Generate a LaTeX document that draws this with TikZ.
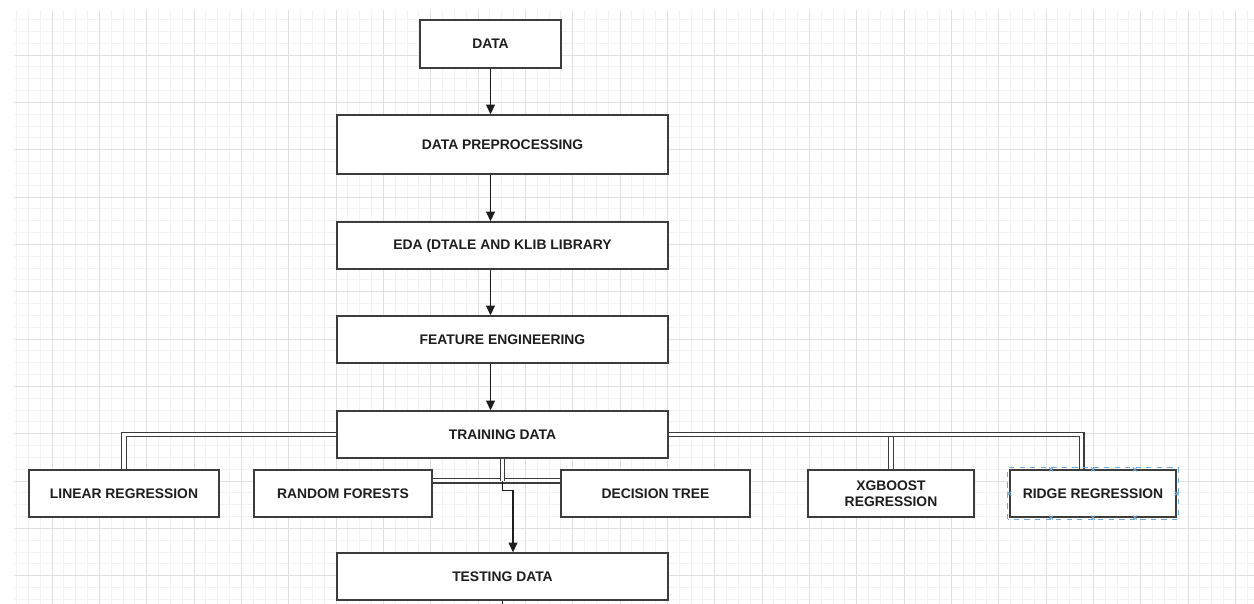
\documentclass[tikz,border=0pt]{standalone}
\usepackage{fontspec}
\setmainfont{Liberation Sans}
\usetikzlibrary{arrows.meta,calc}
\definecolor{gridminor}{HTML}{F2F2F2}
\definecolor{gridmajor}{HTML}{E0E0E0}
\definecolor{boxline}{HTML}{3C3C3C}
\definecolor{flowink}{HTML}{1E1E1E}
\definecolor{selblue}{HTML}{6FA8DC}

\begin{document}
\begin{tikzpicture}[
  x=0.02cm,
  y=-0.02cm,
  box/.style={draw=boxline, fill=white, line width=0.8pt, inner sep=0pt,
    minimum width=6.62cm, minimum height=0.94cm, align=center,
    text=flowink, font=\fontsize{7.9}{9.4}\selectfont\bfseries},
  flow/.style={draw=flowink, line width=0.6pt, -{Triangle[length=5.5pt,width=5pt]}},
  link/.style={draw=boxline, line width=0.7pt, double=white, double distance=2pt},
  handle/.style={draw=selblue, line width=0.5pt}
]
  \useasboundingbox (0,0) rectangle (1254,604);
  \fill[white] (0,0) rectangle (1254,604);

  % Background grid
  \foreach \i in {-3,...,101} {
    \draw[gridminor, line width=0.4pt] ({52+\i*11.833},10) -- ({52+\i*11.833},604);
  }
  \foreach \i in {-3,...,46} {
    \draw[gridminor, line width=0.4pt] (14,{55+\i*11.833}) -- (1254,{55+\i*11.833});
  }
  \foreach \i in {0,...,25} {
    \draw[gridmajor, line width=0.5pt] ({52+\i*47.333},10) -- ({52+\i*47.333},604);
  }
  \foreach \i in {0,...,11} {
    \draw[gridmajor, line width=0.5pt] (14,{55+\i*47.333}) -- (1254,{55+\i*47.333});
  }

  % Main pipeline
  \node[box, minimum width=2.82cm, minimum height=0.96cm] (data) at (490.5,44) {DATA};
  \node[box, minimum height=1.18cm] (prep) at (502.5,144.5) {DATA PREPROCESSING};
  \node[box] (eda) at (502.5,245.5) {EDA (DTALE AND KLIB LIBRARY};
  \node[box] (feat) at (502.5,339.5) {FEATURE ENGINEERING};
  \node[box] (train) at (502.5,434.5) {TRAINING DATA};
  \node[box] (test) at (502.5,576.5) {TESTING DATA};

  % Models
  \node[box, minimum width=3.80cm] (linreg) at (124,493.5) {LINEAR REGRESSION};
  \node[box, minimum width=3.56cm] (forest) at (343,493.5) {RANDOM FORESTS};
  \node[box, minimum width=3.78cm] (tree) at (655.5,493.5) {DECISION TREE};
  \node[box, minimum width=3.32cm] (xgb) at (891,493.5) {XGBOOST\\REGRESSION};
  \node[box, minimum width=3.32cm] (ridge) at (1093,493.5) {RIDGE REGRESSION};

  % Arrows down the pipeline
  \draw[flow] (data.south) -- (data.south |- prep.north);
  \draw[flow] (data.south |- prep.south) -- (data.south |- eda.north);
  \draw[flow] (data.south |- eda.south) -- (data.south |- feat.north);
  \draw[flow] (data.south |- feat.south) -- (data.south |- train.north);

  % Links to the models
  \coordinate (hub) at ($(train.south)+(0,22)$);
  \coordinate (ridgetop) at ($(ridge.north)+(-11.5,0)$);
  \draw[link] (train.west) -| (linreg.north);
  \draw[link] (train.east) -| (xgb.north);
  \draw[link] (train.east) -| (ridgetop);
  \draw[link] (forest.east |- hub) -- (tree.west |- hub);
  \draw[link] (train.south) -- (hub);

  % Training to testing
  \coordinate (testtop) at ($(test.north)+(10.5,0)$);
  \coordinate (testout) at ($(test.south)+(0,8)$);
  \draw[flow] (hub) -- ++(0,10) -| (testtop);
  \draw[draw=flowink, line width=0.6pt] (test.south) -- (testout);

  % Selection marks on ridge box
  \draw[handle, dashed] ($(ridge.south west)+(-1.5,1.5)$) rectangle ($(ridge.north east)+(1.5,-1.5)$);
  \foreach \t in {0.25,0.5,0.75} {
    \draw[handle] ($(ridge.north west)!\t!(ridge.north east)+(-2,-2)$) -- ++(4,4)
      ($(ridge.north west)!\t!(ridge.north east)+(-2,2)$) -- ++(4,-4);
    \draw[handle] ($(ridge.south west)!\t!(ridge.south east)+(-2,-2)$) -- ++(4,4)
      ($(ridge.south west)!\t!(ridge.south east)+(-2,2)$) -- ++(4,-4);
  }
  \foreach \a in {west,east} {
    \draw[handle] ($(ridge.\a)+(-2,-2)$) -- ++(4,4) ($(ridge.\a)+(-2,2)$) -- ++(4,-4);
  }
\end{tikzpicture}
\end{document}
